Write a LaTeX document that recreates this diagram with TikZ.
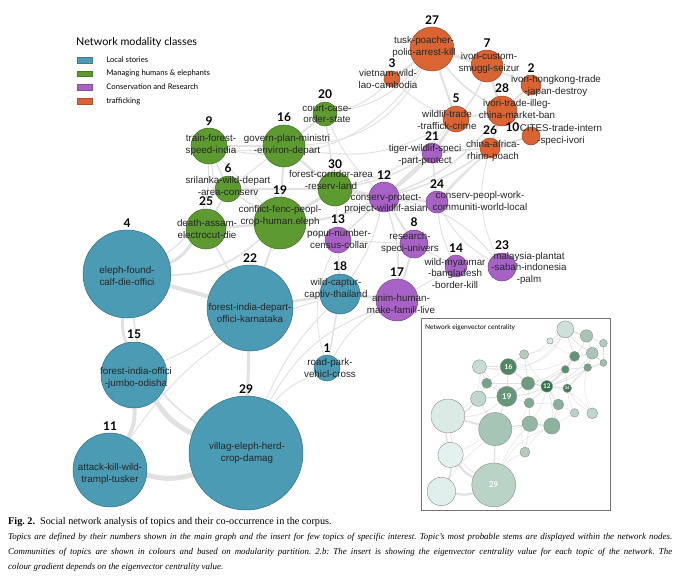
\documentclass[tikz,border=0pt]{standalone}
\usepackage{fontspec}
\setmainfont{Liberation Serif}
\newfontfamily\stemfont{Liberation Sans}
\newfontfamily\legfont{Lato}
\usetikzlibrary{positioning}

\definecolor{localc}{HTML}{4B9BB4}
\definecolor{managec}{HTML}{5D9B30}
\definecolor{consc}{HTML}{A862C6}
\definecolor{traffc}{HTML}{DB6434}
\definecolor{eighi}{HTML}{2A6B3E}
\definecolor{eiglo}{HTML}{E9F6F4}
\definecolor{linkc}{HTML}{E1E1E1}

\pgfdeclarelayer{links}
\pgfdeclarelayer{insertbg}
\pgfdeclarelayer{insertlinks}
\pgfsetlayers{links,insertbg,insertlinks,main}

\tikzset{
  topic/.style={circle, inner sep=0pt, draw=#1!70!black, line width=0.5pt, fill=#1},
  mini/.style={circle, inner sep=0pt, draw=black!45, line width=0.4pt},
  stem/.style={font=\stemfont\fontsize{9.8}{11.5}\selectfont, align=center, inner sep=0pt, text=black!85},
  num/.style={font=\legfont\bfseries\fontsize{12}{12}\selectfont, inner sep=1pt, label distance=1.5pt},
  mininum/.style={font=\legfont\bfseries\fontsize{#1}{#1}\selectfont, text=white, inner sep=0pt},
  link/.style={draw=linkc, line width=#1},
  swatch/.style={draw=#1!80!black, fill=#1, minimum width=15pt, minimum height=5.5pt, inner sep=0pt},
  legtext/.style={font=\legfont\fontsize{7.7}{7.7}\selectfont, anchor=west, inner sep=0pt},
  captext/.style={anchor=base west, inner sep=0pt, font=\fontsize{8.9}{10}\selectfont\itshape},
}

% topic / x / y / radius / class / centrality / angle of number
\newcommand\topiclist{4/127/274/44/localc/8/90, 22/250/308/43/localc/35/90,
  15/134/375/33/localc/3/90, 11/110/470/37/localc/5/90, 29/246/453/57/localc/25/90,
  18/340/294/20/localc/45/90, 1/327/368/13/localc/30/90,
  9/209/146/18/managec/18/90, 16/284/146/21/managec/80/90, 6/228/189/13/managec/60/90,
  25/206/229/20/managec/22/90, 19/280/223/26/managec/68/90, 30/335/189/17/managec/65/90,
  20/325/114/12/managec/30/90,
  12/384/197/15/consc/95/90, 21/432/153/10/consc/75/90, 24/437/202/11/consc/88/90,
  13/338/240/13/consc/55/90, 8/414/244/14/consc/50/90, 14/456/266/11/consc/25/90,
  23/502/267/14/consc/22/90, 17/397/300/21/consc/48/90,
  27/432/49/22/traffc/15/90, 7/487/66/16/traffc/35/90, 2/531/85/10/traffc/30/90,
  3/392/79/8/traffc/10/90, 28/502/111/15/traffc/35/90, 5/456/119/13/traffc/70/90,
  26/490/148/10/traffc/60/90, 10/531/136/9/traffc/40/165}

% from / to / width / bend
\newcommand\linklist{4/22/4/0, 4/15/3/-10, 15/11/4/15, 11/29/5/-15, 15/29/5/-15,
  11/18/1/20, 22/29/3/0, 15/22/1/-5, 4/29/1.5/-25, 4/25/3/-15, 4/19/1.5/-20,
  4/9/1/-30, 22/18/2.5/0, 22/19/2/0, 22/25/1.5/0, 29/1/1/15, 29/18/1/10,
  29/17/1/20, 18/17/3/0, 18/1/1.5/0, 1/17/1/15, 18/13/1.5/0, 18/12/1/-10,
  17/8/2/0, 17/12/1.5/-10, 17/14/1/0, 8/12/2/0, 8/13/1/0, 8/14/1/0, 14/24/1/10,
  23/24/1/15, 23/12/1/-20, 23/26/0.8/20, 13/19/1.5/0, 13/12/1.5/0, 19/16/2/0,
  19/30/3/0, 19/25/2.5/0, 19/6/1.5/0, 19/12/2/-10, 19/9/1/0, 16/9/2/0, 16/30/2/0,
  16/20/1.5/0, 16/6/1/0, 16/12/1.5/-15, 16/5/1/-20, 16/27/1/-30, 9/6/1.5/0,
  9/20/1/-25, 9/27/1/-35, 25/6/2/0, 25/9/1/-10, 30/12/3/0, 30/20/1.5/0,
  30/21/1.5/-10, 30/5/1/-15, 12/21/2.5/0, 12/24/2.5/0, 12/5/2/-10, 12/26/1.5/-10,
  12/28/1.5/-15, 21/5/2/0, 21/26/2/0, 21/24/1.5/0, 24/26/1.5/0, 24/10/1/15,
  5/28/2/0, 5/27/2/0, 5/7/1.5/-10, 5/3/1/10, 26/28/2/0, 26/10/1.5/0, 28/7/2.5/0,
  28/2/1.5/0, 28/10/2/0, 7/27/3/0, 7/2/1.5/0, 27/3/2/0, 27/20/1/20, 27/28/1.5/-10,
  3/20/1/15, 2/10/1/0, 20/12/1/-10, 6/30/1.5/0, 13/30/1/0, 1/13/0.8/20}

\begin{document}
\frenchspacing
\begin{tikzpicture}[x=1pt, y=-1pt]
  \useasboundingbox (0,0) rectangle (680,579);

  % legend
  \node[font=\legfont\fontsize{10.8}{10.8}\selectfont, anchor=west, inner sep=0pt] (legtitle) at (76,42) {Network modality classes};
  \node[swatch=localc] (sw1) at (84.5,60) {};
  \node[swatch=managec] (sw2) at (84.5,73.5) {};
  \node[swatch=consc] (sw3) at (84.5,87) {};
  \node[swatch=traffc] (sw4) at (84.5,101) {};
  \node[legtext, right=14pt of sw1] {Local stories};
  \node[legtext, right=14pt of sw2] {Managing humans \& elephants};
  \node[legtext, right=14pt of sw3] {Conservation and Research};
  \node[legtext, right=14pt of sw4] {trafficking};

  % topics, main graph and insert
  \foreach \id/\x/\y/\rad/\cls/\cen/\ang in \topiclist {
    \node[topic=\cls, minimum size=2*\rad, label={[num]\ang:\id}] (m\id) at (\x,\y) {};
    \node[mini, fill=eighi!\cen!eiglo, minimum size=0.77*\rad] (i\id) at (0.385*\x+399, 0.385*\y+310.5) {};
  }

  % co-occurrence links
  \begin{pgfonlayer}{links}
    \foreach \p/\q/\w/\bnd in \linklist
      \draw[link=\w] (m\p) to[bend left=\bnd] (m\q);
  \end{pgfonlayer}
  \begin{pgfonlayer}{insertbg}
    \draw[black!55, fill=white, line width=0.6pt] (421,318) rectangle (610,510);
  \end{pgfonlayer}
  \begin{pgfonlayer}{insertlinks}
    \foreach \p/\q/\w/\bnd in \linklist
      \draw[link=0.45*\w] (i\p) to[bend left=\bnd] (i\q);
  \end{pgfonlayer}

  % stems
  \node[stem] at (127,276) {eleph-found-\\calf-die-offici};
  \node[stem] at (250,313) {forest-india-depart-\\offici-karnataka};
  \node[stem] at (136,378) {forest-india-offici\\-jumbo-odisha};
  \node[stem] at (110,474) {attack-kill-wild-\\trampl-tusker};
  \node[stem] at (247,453) {villag-eleph-herd-\\crop-damag};
  \node[stem] at (336,289) {wild-captur-\\captiv-thailand};
  \node[stem] at (330,368) {road-park-\\vehicl-cross};
  \node[stem] at (211,145) {train-forest-\\speed-india};
  \node[stem] at (287,145) {govern-plan-ministri\\-environ-depart};
  \node[stem] at (228,186) {srilanka-wild-depart\\-area-conserv};
  \node[stem] at (207,229) {death-assam-\\electrocut-die};
  \node[stem] at (280,216) {conflict-fenc-peopl-\\crop-human.eleph};
  \node[stem] at (331,180) {forest-corridor-area\\-reserv-land};
  \node[stem] at (327,114) {court-case-\\order-state};
  \node[stem] at (386,204) {conserv-protect-\\project-wildlif-asian};
  \node[stem] at (425,155) {tiger-wildlif-speci\\-part-protect};
  \node[stem] at (480,201) {conserv-peopl-work-\\communiti-world-local};
  \node[stem] at (339,239) {popul-number-\\census-collar};
  \node[stem] at (410,243) {research-\\speci-univers};
  \node[stem] at (455,273) {wild-myanmar\\-bangladesh\\-border-kill};
  \node[stem] at (529,268) {malaysia-plantat\\-sabah-indonesia\\-palm};
  \node[stem] at (401,304) {anim-human-\\make-famili-live};
  \node[stem] at (424,47) {tusk-poacher-\\polic-arrest-kill};
  \node[stem] at (489,63) {ivori-custom-\\smuggl-seizur};
  \node[stem] at (556,86) {ivori-hongkong-trade\\-japan-destroy};
  \node[stem] at (388,79) {vietnam-wild-\\lao-cambodia};
  \node[stem] at (517,109) {ivori-trade-illeg-\\china-market-ban};
  \node[stem] at (447,120) {wildlif-trade\\-traffick-crime};
  \node[stem] at (493,151) {china-africa-\\rhino-poach};
  \node[stem] at (561,135) {CITES-trade-intern\\-speci-ivori};

  % insert
  \node[font=\legfont\fontsize{6.6}{6.6}\selectfont, anchor=west, inner sep=0pt] (institle) at (425,328) {Network eigenvector centrality};
  \node[mininum=7] at (i16) {16};
  \node[mininum=8] at (i19) {19};
  \node[mininum=6.5] at (i12) {12};
  \node[mininum=4] at (i24) {24};
  \node[mininum=8] at (i29) {29};

  % caption
  \node[anchor=base west, inner sep=0pt, font=\fontsize{10.2}{11}\selectfont] (cap1) at (8,524) {\textbf{Fig. 2.}\enspace Social network analysis of topics and their co-occurrence in the corpus.};
  \node[captext] (cap2) at (8,539.5) {\makebox[664pt][s]{Topics are defined by their numbers shown in the main graph and the insert for few topics of specific interest. Topic's most probable stems are displayed within the network nodes.}};
  \node[captext] (cap3) at (8,554.5) {\makebox[664pt][s]{Communities of topics are shown in colours and based on modularity partition. 2.b: The insert is showing the eigenvector centrality value for each topic of the network. The}};
  \node[captext] (cap4) at (8,569) {colour gradient depends on the eigenvector centrality value.};
\end{tikzpicture}
\end{document}
